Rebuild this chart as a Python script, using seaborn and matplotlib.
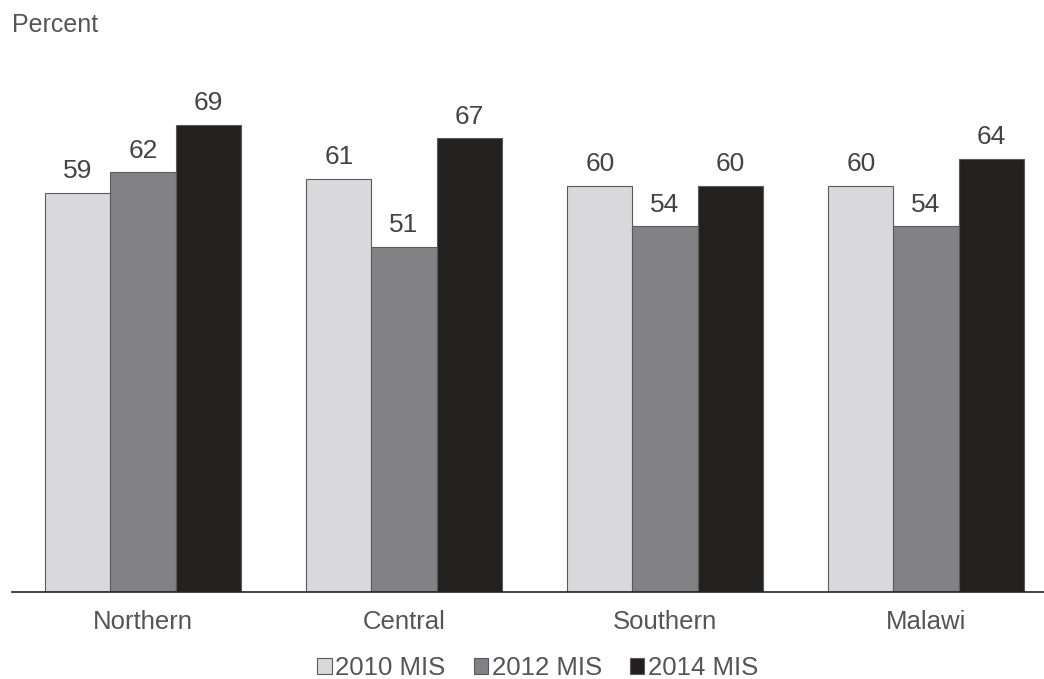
import matplotlib
matplotlib.use("Agg")
import matplotlib.pyplot as plt
import seaborn as sns
import pandas as pd
from matplotlib.patches import Patch

regions = ["Northern", "Central", "Southern", "Malawi"]
surveys = ["2010 MIS", "2012 MIS", "2014 MIS"]
v2010 = [59, 61, 60, 60]
v2012 = [62, 51, 54, 54]
v2014 = [69, 67, 60, 64]
colors = ["#d9d9db", "#818286", "#231f20"]

rows = []
for s, vals in zip(surveys, [v2010, v2012, v2014]):
    for r, v in zip(regions, vals):
        rows.append({"Region": r, "Survey": s, "Value": v})
df = pd.DataFrame(rows)

sns.set_theme(style="white")
plt.rcParams["font.family"] = ["Liberation Sans", "DejaVu Sans"]
text_color = "#555555"

fig = plt.figure(figsize=(10.44, 6.79), dpi=100)
ax = fig.add_axes([12 / 1044, 87 / 679, 1032 / 1044, 541.6 / 679])

sns.barplot(data=df, x="Region", y="Value", hue="Survey", order=regions,
            hue_order=surveys, palette=colors, width=0.75, ax=ax,
            edgecolor="#5a5a5a", linewidth=0.8, legend=False)

for cont in ax.containers:
    ax.bar_label(cont, fmt="%d", padding=7, fontsize=19, color="#444444")

ax.set_xlim(-0.502, 3.452)
ax.set_ylim(0, 80)
ax.set_xlabel("")
ax.set_ylabel("")
ax.set_yticks([])
for side in ["top", "right", "left"]:
    ax.spines[side].set_visible(False)
ax.spines["bottom"].set_color("#222222")
ax.spines["bottom"].set_linewidth(1.2)
ax.tick_params(axis="x", length=0, pad=13, labelsize=18.5, colors=text_color)

fig.text(12 / 1044, 1 - 25 / 679, "Percent", fontsize=18, color=text_color,
         va="center", ha="left")

handles = [Patch(facecolor=c, edgecolor="#5a5a5a", linewidth=0.8) for c in colors]
fig.legend(handles, surveys, loc="center", bbox_to_anchor=(538 / 1044, 1 - 668 / 679),
           ncol=3, frameon=False, fontsize=18.5, labelcolor=text_color,
           handlelength=0.55, handleheight=0.55, handletextpad=0.15,
           columnspacing=1.1, borderpad=0.1)

fig.savefig("out.png", dpi=100)
